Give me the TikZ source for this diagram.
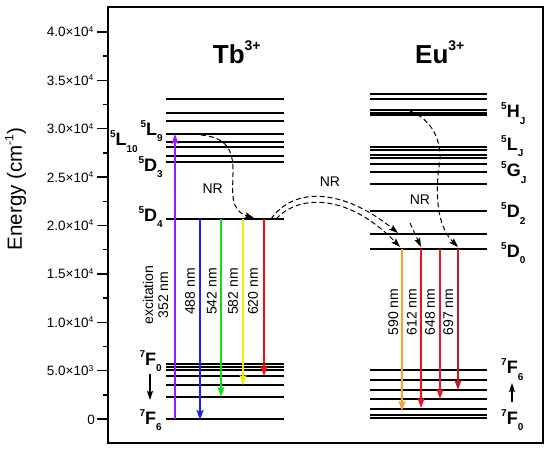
\documentclass[tikz,border=0pt]{standalone}
\usepackage{fontspec}
\setmainfont{Liberation Sans}
\usetikzlibrary{arrows.meta}
\definecolor{cpurple}{RGB}{145,30,250}
\definecolor{cblue}{RGB}{30,30,255}
\definecolor{cgreen}{RGB}{20,225,20}
\definecolor{cyellow}{RGB}{245,235,0}
\definecolor{cred}{RGB}{250,10,10}
\definecolor{corange}{RGB}{255,160,30}
\definecolor{credb}{RGB}{240,15,25}
\definecolor{credc}{RGB}{225,25,40}
\definecolor{cdred}{RGB}{190,30,40}
\newcommand{\mylv}[3]{\raisebox{8pt}{\fontsize{10}{10}\selectfont #1}#2\raisebox{-6.5pt}{\fontsize{10}{10}\selectfont #3}}
\newcommand{\mytk}[2]{#1×10\raisebox{4.5pt}{\fontsize{8.5}{8.5}\selectfont #2}}
\begin{document}
\begin{tikzpicture}[x=1pt,y=-1pt,
  lvl/.style={line width=1.6pt},
  emis/.style={line width=1.7pt,-{Stealth[length=10pt,width=7pt,inset=2pt]}},
  nrarr/.style={line width=1pt,dash pattern=on 5pt off 3pt,-{Stealth[length=9pt,width=6pt,inset=1.5pt]}},
  blk/.style={line width=1.2pt,-{Stealth[length=9pt,width=6pt,inset=1.5pt]}},
  lab/.style={font=\fontsize{14}{15}\selectfont,rotate=90,align=center,inner sep=0pt},
  lvlab/.style={font=\fontsize{18}{18}\selectfont\bfseries,inner sep=0pt},
  ticklab/.style={font=\fontsize{13.5}{13.5}\selectfont,inner sep=0pt,anchor=base east},
  nrlab/.style={font=\fontsize{14}{14}\selectfont,inner sep=0pt},
  ttl/.style={font=\fontsize{26}{26}\selectfont\bfseries,anchor=base west,inner sep=0pt}]
\useasboundingbox (0,0) rectangle (550,451);
% frame
\draw[line width=1.6pt] (108,7) rectangle (543,443);
% ticks (energy in units of 1000 cm^-1)
\foreach \e in {0,5,...,40} \draw[line width=1.4pt] (97,{419-9.68*\e}) -- (108,{419-9.68*\e});
\foreach \e in {2.5,7.5,...,37.5} \draw[line width=1.4pt] (103,{419-9.68*\e}) -- (108,{419-9.68*\e});
\node[ticklab] (t0) at (95,424) {0};
\node[ticklab] (t1) at (93.5,375.6) {\mytk{5.0}{3}};
\node[ticklab] (t2) at (93.5,327.2) {\mytk{1.0}{4}};
\node[ticklab] (t3) at (93.5,278.8) {\mytk{1.5}{4}};
\node[ticklab] (t4) at (93.5,230.4) {\mytk{2.0}{4}};
\node[ticklab] (t5) at (93.5,182) {\mytk{2.5}{4}};
\node[ticklab] (t6) at (93.5,133.6) {\mytk{3.0}{4}};
\node[ticklab] (t7) at (93.5,85.2) {\mytk{3.5}{4}};
\node[ticklab] (t8) at (93.5,36.8) {\mytk{4.0}{4}};
\node[font=\fontsize{20.5}{20.5}\selectfont,rotate=90,inner sep=0pt] (ylab) at (15.5,189) {Energy (cm\raisebox{8.5pt}{\fontsize{12}{12}\selectfont -1})};
% titles
\node[ttl] (tbT) at (212.7,63.3) {Tb\raisebox{13pt}{\fontsize{14}{14}\selectfont 3+}};
\node[ttl] (euT) at (415,63.3) {Eu\raisebox{13pt}{\fontsize{14}{14}\selectfont 3+}};
% levels
\foreach \y in {99,113,121,134,142,147,156,162,219,364,367,370,376,385,397,419}
  \draw[lvl] (166,\y) -- (284,\y);
\foreach \y in {94,99,110,113,115,147,150,155,158,164,172,184,211,234,249,370,380,390,399,409,415,418}
  \draw[lvl] (370,\y) -- (487,\y);
% level labels Tb
\node[lvlab,anchor=base east] (tL9) at (163,135) {\mylv{5}{L}{9}};
\node[lvlab,anchor=base east] (tL10) at (138,145.5) {\mylv{5}{L}{10}};
\node[lvlab,anchor=base east] (tD3) at (163,171) {\mylv{5}{D}{3}};
\node[lvlab,anchor=base east] (tD4) at (163,221) {\mylv{5}{D}{4}};
\node[lvlab,anchor=base east] (tF0) at (162,365) {\mylv{7}{F}{0}};
\node[lvlab,anchor=base east] (tF6) at (162,424) {\mylv{7}{F}{6}};
% level labels Eu
\node[lvlab,anchor=base west] (eH) at (501,117.5) {\mylv{5}{H}{J}};
\node[lvlab,anchor=base west] (eL) at (501,150) {\mylv{5}{L}{J}};
\node[lvlab,anchor=base west] (eG) at (501,176.5) {\mylv{5}{G}{J}};
\node[lvlab,anchor=base west] (eD2) at (501,217.5) {\mylv{5}{D}{2}};
\node[lvlab,anchor=base west] (eD0) at (501,257) {\mylv{5}{D}{0}};
\node[lvlab,anchor=base west] (eF6) at (501,373.5) {\mylv{7}{F}{6}};
\node[lvlab,anchor=base west] (eF0) at (501,424) {\mylv{7}{F}{0}};
% black arrows
\coordinate (tArA) at (150,374); \coordinate (tArB) at (150,400);
\draw[blk] (tArA) -- (tArB);
\coordinate (eArA) at (512,402); \coordinate (eArB) at (512,383);
\draw[blk] (eArA) -- (eArB);
% Tb transitions
\coordinate (exA) at (175,419); \coordinate (exB) at (175,134);
\draw[emis,cpurple] (exA) -- (exB);
\coordinate (bA) at (200,219); \coordinate (bB) at (200,420);
\draw[emis,cblue] (bA) -- (bB);
\coordinate (gA) at (221,219); \coordinate (gB) at (221,397);
\draw[emis,cgreen] (gA) -- (gB);
\coordinate (yA) at (243,219); \coordinate (yB) at (243,385);
\draw[emis,cyellow] (yA) -- (yB);
\coordinate (rA) at (264,219); \coordinate (rB) at (264,376);
\draw[emis,cred] (rA) -- (rB);
\node[lab] (lex) at (155.5,295) {excitation\\352 nm};
\node[lab] (l488) at (190,291.5) {488 nm};
\node[lab] (l542) at (211.7,291.5) {542 nm};
\node[lab] (l582) at (233,291.5) {582 nm};
\node[lab] (l620) at (253,291.5) {620 nm};
% Eu transitions
\coordinate (oA) at (402,249); \coordinate (oB) at (402,411);
\draw[emis,corange,line width=1.4pt] (oA) -- (oB);
\coordinate (r1A) at (421,249); \coordinate (r1B) at (421,408);
\draw[emis,credb] (r1A) -- (r1B);
\coordinate (r2A) at (440,249); \coordinate (r2B) at (440,399);
\draw[emis,credc] (r2A) -- (r2B);
\coordinate (r3A) at (458,249); \coordinate (r3B) at (458,390);
\draw[emis,cdred] (r3A) -- (r3B);
\node[lab] (l590) at (393.3,312) {590 nm};
\node[lab] (l612) at (411.7,312) {612 nm};
\node[lab] (l648) at (430,312) {648 nm};
\node[lab] (l697) at (448.3,312) {697 nm};
% NR arrows
\coordinate (n1a) at (201,135); \coordinate (n1b) at (254,218);
\draw[nrarr] (n1a) .. controls (260,140) and (212,205) .. (n1b);
\coordinate (o1) at (271,219); \coordinate (o2) at (398,233);
\draw[nrarr] (o1) .. controls (295,185) and (345,190) .. (o2);
\coordinate (i1) at (276,219); \coordinate (i2) at (400,247);
\draw[nrarr] (i1) .. controls (300,193) and (350,195) .. (i2);
\coordinate (s1) at (410,223); \coordinate (s2) at (421,247);
\draw[nrarr] (s1) -- (s2);
\coordinate (e1) at (410,111); \coordinate (em) at (440,160); \coordinate (e2) at (458,247);
\draw[nrarr] (e1) .. controls (428,118) and (441,135) .. (em) .. controls (435,190) and (436,225) .. (e2);
\node[nrlab] (nrT) at (212.7,188.7) {NR};
\node[nrlab] (nrM) at (330,181.7) {NR};
\node[nrlab] (nrE) at (420,200) {NR};
\end{tikzpicture}
\end{document}
